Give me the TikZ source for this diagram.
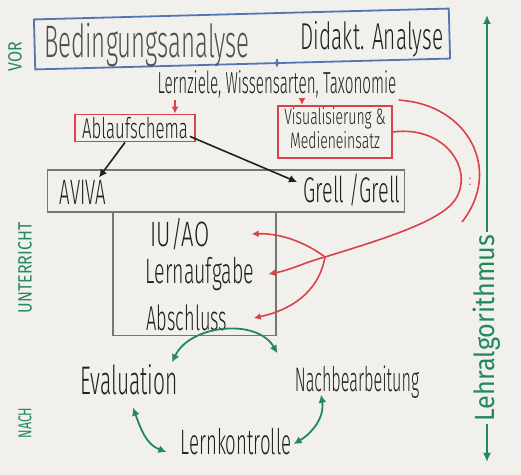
\documentclass[tikz,border=0pt]{standalone}
\usepackage{fontspec}
\setmainfont{Fira Sans}[UprightFont={* Light}]
\newfontfamily\markerfont{Fira Sans}
\usepackage{graphicx}
\usepackage{tikz}
\usetikzlibrary{arrows.meta,positioning}
\usepackage{xcolor}
\definecolor{paper}{HTML}{F1F0EC}
\definecolor{ink}{HTML}{202020}
\definecolor{pencil}{HTML}{505050}
\definecolor{markerBlue}{HTML}{5574B4}
\definecolor{markerRed}{HTML}{D8424A}
\definecolor{markerGreen}{HTML}{23885A}
\definecolor{frameGray}{HTML}{767676}
\newcommand{\tall}[2][1.9]{\scalebox{1}[#1]{#2}}
\newcommand{\hsz}[1]{\fontsize{#1}{#1}\selectfont}

\begin{document}
\begin{tikzpicture}[x=0.5pt, y=-0.5pt, every node/.style={inner sep=1pt, text=ink, align=center},
    redbox/.style={draw=markerRed, line width=0.9pt},
    graybox/.style={draw=frameGray, line width=0.9pt},
    redarrow/.style={-{Latex[length=3.5pt,width=3.5pt]}, markerRed, line width=0.8pt},
    blackarrow/.style={-{Latex[length=4pt,width=4pt]}, ink, line width=0.8pt},
    greenarrow/.style={-{Latex[length=4.5pt,width=4pt]}, markerGreen, line width=0.9pt},
    greendbl/.style={{Latex[length=4pt,width=4pt]}-{Latex[length=4pt,width=4pt]}, markerGreen, line width=0.9pt},
    sidelabel/.style={rotate=90, text=markerGreen}]
    \path[use as bounding box, fill=paper] (0,0) rectangle (521,475);

    % VOR
    \node[draw=markerBlue, line width=0.9pt, minimum width=207.5pt, minimum height=25pt, rotate=1.5] (vor) at (242,39) {};
    \node[font=\hsz{12}, text=pencil] (bed) at (147,45) {\tall[1.9]{Bedingungsanalyse}};
    \node[font=\hsz{10.4}] (dida) at (372,39) {\tall[1.8]{Didakt. Analyse}};
    \node[font=\hsz{7.6}] (lz) at (277,84) {\tall[2]{Lernziele, Wissensarten, Taxonomie}};
    \draw[-{Latex[length=3pt,width=3pt]}, markerBlue, line width=0.8pt] ([yshift=3pt]vor.south -| lz.north) -- (lz.north);

    \node[redbox, minimum width=60pt, minimum height=13.5pt] (abl) at (135,128) {\hsz{8.4}\tall[1.7]{Ablaufschema}};
    \node[redbox, minimum width=57pt, minimum height=25pt] (vis) at (335,132)
        {\fontsize{7}{7.5}\selectfont\tall[1.6]{\begin{tabular}{@{}c@{}}Visualisierung \&\\Medieneinsatz\end{tabular}}};
    \draw[redarrow] ([xshift=20pt]abl.north |- lz.south) -- ([xshift=20pt]abl.north);
    \draw[redarrow] ([xshift=-16.5pt]vis.north |- lz.south) -- ([xshift=-16.5pt]vis.north);

    % UNTERRICHT
    \node[graybox, minimum width=178.5pt, minimum height=21pt] (av) at (226,191) {};
    \node[font=\hsz{9.3}] (aviva) at (83,192) {\tall{AVIVA}};
    \node[font=\hsz{9.9}] (grell) at (352,190) {\tall[1.8]{Grell /Grell}};
    \draw[blackarrow] ([xshift=-5pt]abl.south) -- ([xshift=8pt]aviva.north);
    \draw[blackarrow] ([xshift=-3pt,yshift=3pt]abl.south east) -- ([xshift=-2pt,yshift=4pt]grell.west);

    \node[graybox, minimum width=81.5pt, minimum height=61.5pt] (ubox) at (194.5,274) {};
    \node[font=\hsz{11}] (iu) at (180,234) {\tall[1.6]{IU/AO}};
    \node[font=\hsz{9.8}] (la) at (200,274) {\tall[1.8]{Lernaufgabe}};
    \node[font=\hsz{9.1}] (absch) at (187,318) {\tall{Abschluss}};

    \coordinate (hub) at (325,257);
    \coordinate (outerend) at (462,222);
    \draw[markerRed, line width=0.8pt] (lz.south east) .. controls (468,104) and (503,170) .. (outerend);
    \draw[markerRed, line width=0.8pt] (vis.east) .. controls (445,125) and (475,170) .. (455,200)
        .. controls (440,222) and (380,240) .. (hub);
    \node[font=\hsz{8}, text=markerRed] (dots) at (470,182) {:};
    \draw[redarrow] (hub) .. controls (305,242) and (280,233) .. ([xshift=20pt]iu.east);
    \draw[redarrow] (hub) to[out=195, in=10] ([xshift=6pt]la.east);
    \draw[redarrow] (hub) to[out=-100, in=12] ([xshift=12pt]absch.east);

    % NACH
    \node[font=\hsz{10.5}] (eval) at (129,380) {\tall{Evaluation}};
    \node[font=\hsz{8.1}] (nach) at (357,382) {\tall[2.1]{Nachbearbeitung}};
    \node[font=\hsz{9.3}] (lk) at (236,442) {\tall{Lernkontrolle}};
    \draw[greendbl] ([xshift=-4pt]eval.north east) to[out=65, in=120] ([xshift=-7.5pt,yshift=5pt]nach.north west);
    \draw[greendbl] ([xshift=2pt,yshift=-5pt]eval.south) to[out=-70, in=160] ([xshift=-6pt,yshift=-5pt]lk.west);
    \draw[greendbl] ([xshift=-18pt,yshift=3pt]nach.south) to[out=-80, in=30] ([yshift=-1pt]lk.east);

    % side labels
    \node[sidelabel, font=\markerfont\hsz{8}] (vorlab) at (15,57) {\tall[1.2]{VOR}};
    \node[sidelabel, font=\markerfont\hsz{8}] (unterlab) at (25,268) {\tall[1.2]{UNTERRICHT}};
    \node[sidelabel, font=\markerfont\hsz{6.2}] (nachlab) at (25,423) {\tall[1.5]{NACH}};
    \node[sidelabel, font=\markerfont\hsz{12.6}] (lehr) at (487,328) {\tall[1.1]{Lehralgorithmus}};
    \coordinate (axtop) at (487,15);
    \coordinate (axbot) at (487,462);
    \draw[greenarrow] (lehr.east) -- (axtop);
    \draw[greenarrow] (lehr.west) -- (axbot);
\end{tikzpicture}
\end{document}
